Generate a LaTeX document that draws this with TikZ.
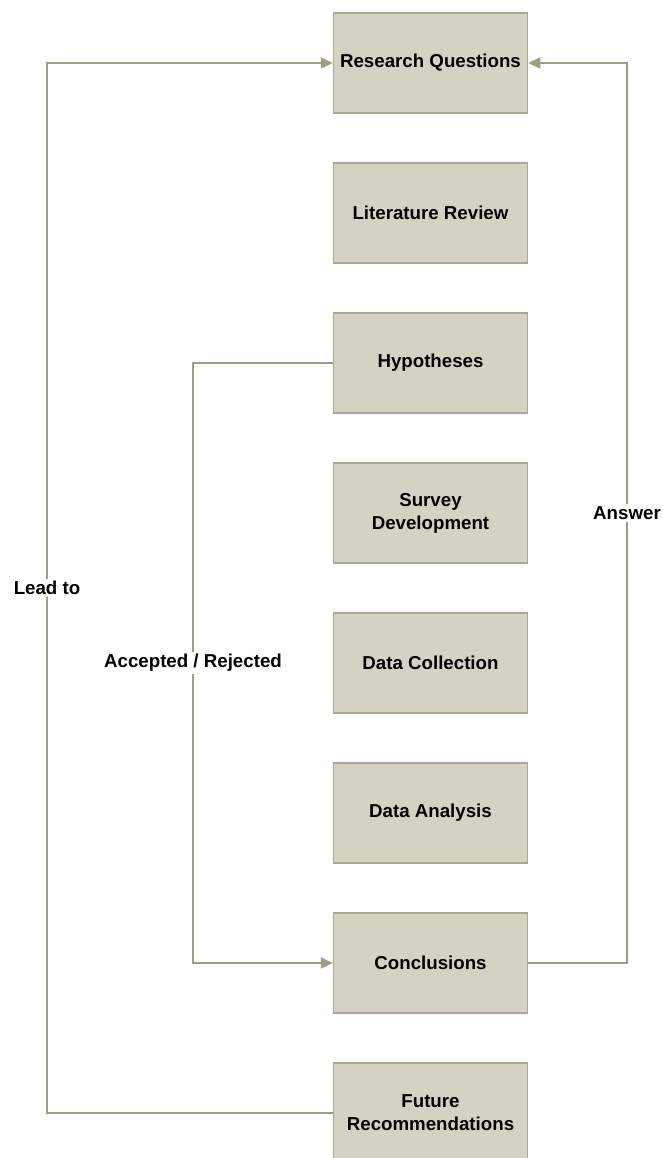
\documentclass[tikz,border=0pt]{standalone}
\usepackage{fontspec}
\setmainfont{Liberation Sans}
\usetikzlibrary{arrows.meta}
\definecolor{boxfill}{HTML}{D4D3C3}
\definecolor{boxline}{HTML}{A9A893}
\definecolor{flowline}{HTML}{9D9C85}

\begin{document}
\begin{tikzpicture}[x=1pt, y=-1pt,
    stagebox/.style={draw=boxline, line width=1.5pt, fill=boxfill, minimum width=194pt, minimum height=100pt,
      inner sep=0pt, align=center, font=\bfseries\fontsize{18.7}{23}\selectfont},
    flow/.style={draw=flowline, line width=2pt},
    tip/.style={-{Triangle[length=12pt, width=11pt]}},
    tag/.style={fill=white, inner sep=2pt, font=\bfseries\fontsize{18.7}{23}\selectfont}]
  \useasboundingbox (0,0) rectangle (662,1158);
  \foreach \n/\t [count=\i from 0] in {rq/Research Questions, lit/Literature Review, hyp/Hypotheses,
      survey/Survey\\Development, collect/Data Collection, analysis/Data Analysis,
      concl/Conclusions, future/Future\\Recommendations} {
    \node[stagebox] (\n) at (430.5, 63+150*\i) {\t};
  }
  \coordinate (leftrail) at (47,0);
  \coordinate (midrail) at (193,0);
  \coordinate (rightrail) at (627,0);
  % feedback loops
  \draw[flow, tip] (future.west) -- (future.west -| leftrail) -- node[tag] {Lead to} (rq.west -| leftrail) -- (rq.west);
  \draw[flow, tip] (hyp.west) -- (hyp.west -| midrail) -- node[tag] {Accepted / Rejected} (concl.west -| midrail) -- (concl.west);
  \draw[flow, tip] (concl.east) -- (concl.east -| rightrail) -- node[tag] {Answer} (rq.east -| rightrail) -- (rq.east);
\end{tikzpicture}
\end{document}
